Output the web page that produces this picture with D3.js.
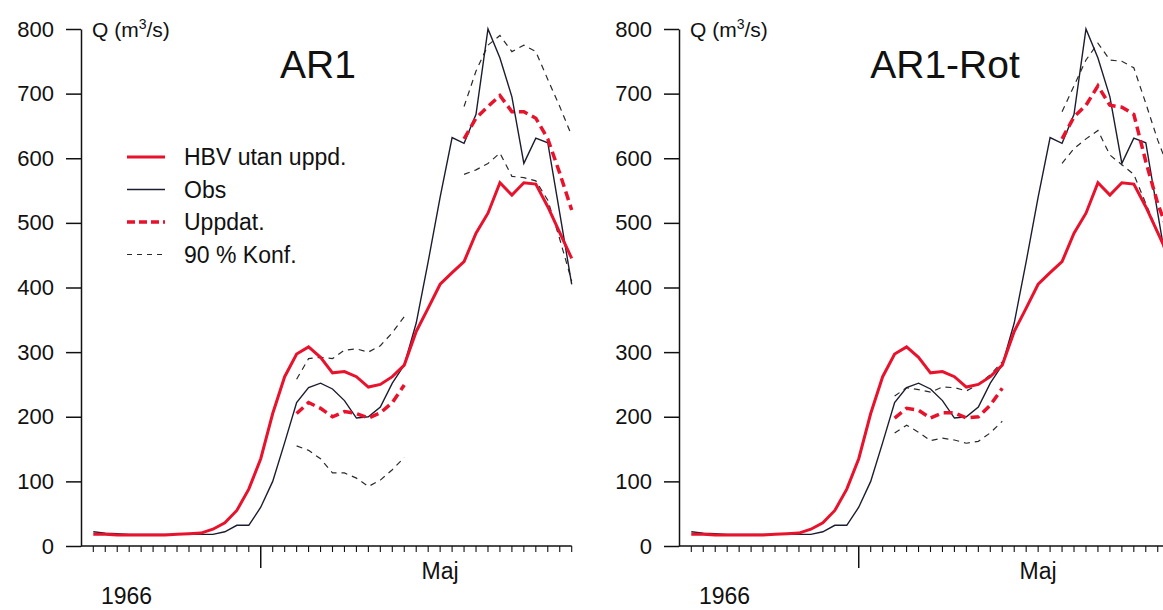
<!DOCTYPE html>
<html>

<head>
    <meta charset="UTF-8" />
    <title>AR1 / AR1-Rot</title>
    <style>
        body {
            margin: 0;
            padding: 0;
            background: #fff;
            font-family: 'Liberation Sans', Arial, Helvetica, sans-serif;
            overflow: hidden;
        }
    </style>
</head>

<body>
    <div class="container"></div>

    <script src="https://cdnjs.cloudflare.com/ajax/libs/d3/7.8.5/d3.min.js"></script>
    <script>
        // daily values, 17 april - 27 maj 1966
        const startDay = new Date(1966, 3, 17)
        const endDay = new Date(1966, 4, 27)
        const yTicks = [0, 100, 200, 300, 400, 500, 600, 700, 800]
        const titles = ['AR1', 'AR1-Rot']
        const legendLabels = ['HBV utan uppd.', 'Obs', 'Uppdat.', '90 % Konf.']

        const hbv = [18, 18, 17, 17, 17, 17, 17, 18, 19, 20, 26, 36, 55, 88, 135, 205, 262, 297, 308, 292,
            268, 270, 262, 246, 250, 262, 280, 332, 368, 405, 423, 440, 484, 515, 562, 543, 562, 560, 525, 485, 445]
        const obs = [22, 20, 19, 18, 18, 18, 18, 18, 18, 18, 18, 22, 32, 32, 60, 100, 160, 222, 245, 252,
            243, 225, 198, 200, 215, 252, 280, 345, 440, 540, 632, 623, 668, 800, 755, 695, 592, 631, 624, 515, 405]

        const _ = null
        const gap17 = Array(17).fill(_)
        const gap4 = [_, _, _, _]

        // AR1
        const upd1 = [...gap17, 205, 222, 213, 200, 208, 205, 198, 206, 222, 249, ...gap4,
            630, 662, 680, 697, 672, 672, 662, 630, 577, 520]
        const hi1 = [...gap17, 258, 290, 292, 290, 303, 305, 300, 310, 330, 355, ...gap4,
            680, 735, 775, 790, 765, 775, 765, 722, 680, 635]
        const lo1 = [...gap17, 155, 148, 135, 113, 113, 105, 92, 102, 118, 137, ...gap4,
            575, 582, 592, 608, 572, 570, 565, 535, 475, 410]

        // AR1-Rot
        const upd2 = [...gap17, 198, 213, 210, 198, 206, 206, 198, 200, 218, 244, ...gap4,
            630, 664, 682, 712, 682, 679, 668, 595, 530, 480]
        const hi2 = [...gap17, 232, 245, 242, 238, 246, 245, 240, 250, 265, 285, ...gap4,
            672, 712, 752, 778, 752, 750, 740, 685, 628, 580]
        const lo2 = [...gap17, 175, 187, 176, 163, 167, 164, 159, 162, 175, 193, ...gap4,
            592, 615, 630, 643, 605, 590, 575, 530, 485, 440]

        const days = d3.timeDay.range(startDay, d3.timeDay.offset(endDay, 1))

        const width = 1163
        const height = 610
        const red = '#e8122c'
        const navy = '#1c1c30'

        const svg = d3.select('.container').append('svg')
            .attr('width', width)
            .attr('height', height)

        const x = d3.scaleTime().domain([startDay, endDay]).range([93.3, 571.7])
        const y = d3.scaleLinear().domain([0, 800]).range([546, 29])

        const line = d3.line()
            .defined(d => d.v != null)
            .x(d => x(d.t))
            .y(d => y(d.v))

        const series = arr => arr.map((v, i) => ({ t: days[i], v }))

        const drawPanel = (dx, title, upd, hi, lo, legend) => {
            const g = svg.append('g').attr('transform', `translate(${dx},0)`)
            const axisX = 81

            // y axis
            const yAxis = g.append('g')
                .attr('transform', `translate(${axisX},0)`)
                .call(d3.axisLeft(y).tickValues(yTicks).tickSize(15).tickSizeOuter(0).tickPadding(12))
            yAxis.selectAll('path, line').attr('stroke', '#111').attr('stroke-width', 1.5)
            yAxis.selectAll('text').attr('font-size', 22).attr('fill', '#111')
                .attr('font-family', 'Liberation Sans, Arial, sans-serif')

            // x axis: day ticks + month tick
            g.append('line')
                .attr('x1', axisX).attr('x2', x(endDay))
                .attr('y1', y(0)).attr('y2', y(0))
                .attr('stroke', '#111').attr('stroke-width', 1.5)

            g.append('g').selectAll('line')
                .data(days)
                .join('line')
                .attr('x1', d => x(d)).attr('x2', d => x(d))
                .attr('y1', y(0))
                .attr('y2', d => y(0) + (d.getDate() === 1 ? 22 : 6))
                .attr('stroke', '#111')
                .attr('stroke-width', d => d.getDate() === 1 ? 1.5 : 1.1)

            g.append('text')
                .attr('x', x(new Date(1966, 4, 16)))
                .attr('y', y(0) + 33)
                .attr('text-anchor', 'middle')
                .attr('font-size', 23)
                .attr('fill', '#111')
                .text('Maj')

            g.append('text')
                .attr('x', 101)
                .attr('y', 604)
                .attr('font-size', 23)
                .attr('fill', '#111')
                .text('1966')

            // y label
            const ql = g.append('text')
                .attr('x', 92)
                .attr('y', 37)
                .attr('font-size', 21)
                .attr('fill', '#111')
            ql.append('tspan').text('Q (m')
            ql.append('tspan').attr('font-size', 14).attr('dy', -8).text('3')
            ql.append('tspan').attr('dy', 8).text('/s)')

            g.append('text')
                .attr('x', dx === 0 ? 318 : 347)
                .attr('y', 78)
                .attr('text-anchor', 'middle')
                .attr('font-size', 39)
                .attr('fill', '#111')
                .text(title)

            // lines
            g.append('path').datum(series(hi))
                .attr('d', line).attr('fill', 'none')
                .attr('stroke', '#2a2a2a').attr('stroke-width', 1.2).attr('stroke-dasharray', '6,5')
            g.append('path').datum(series(lo))
                .attr('d', line).attr('fill', 'none')
                .attr('stroke', '#2a2a2a').attr('stroke-width', 1.2).attr('stroke-dasharray', '6,5')
            g.append('path').datum(series(obs))
                .attr('d', line).attr('fill', 'none')
                .attr('stroke', navy).attr('stroke-width', 1.4)
            g.append('path').datum(series(hbv))
                .attr('d', line).attr('fill', 'none')
                .attr('stroke', red).attr('stroke-width', 3)
            g.append('path').datum(series(upd))
                .attr('d', line).attr('fill', 'none')
                .attr('stroke', red).attr('stroke-width', 3.5).attr('stroke-dasharray', '9,5')

            if (legend) {
                const styles = [
                    { stroke: red, w: 3, dash: null },
                    { stroke: navy, w: 1.4, dash: null },
                    { stroke: red, w: 3.5, dash: '8,4' },
                    { stroke: '#2a2a2a', w: 1.2, dash: '5,5' }
                ]
                const lg = g.append('g')
                legendLabels.forEach((lab, i) => {
                    const ly = 157 + i * 32.5
                    lg.append('line')
                        .attr('x1', 127).attr('x2', 165)
                        .attr('y1', ly).attr('y2', ly)
                        .attr('stroke', styles[i].stroke)
                        .attr('stroke-width', styles[i].w)
                        .attr('stroke-dasharray', styles[i].dash)
                    lg.append('text')
                        .attr('x', 184).attr('y', ly + 8)
                        .attr('font-size', 23)
                        .attr('fill', '#111')
                        .text(lab)
                })
            }
        }

        drawPanel(0, titles[0], upd1, hi1, lo1, true)
        drawPanel(598, titles[1], upd2, hi2, lo2, false)
    </script>
</body>

</html>
